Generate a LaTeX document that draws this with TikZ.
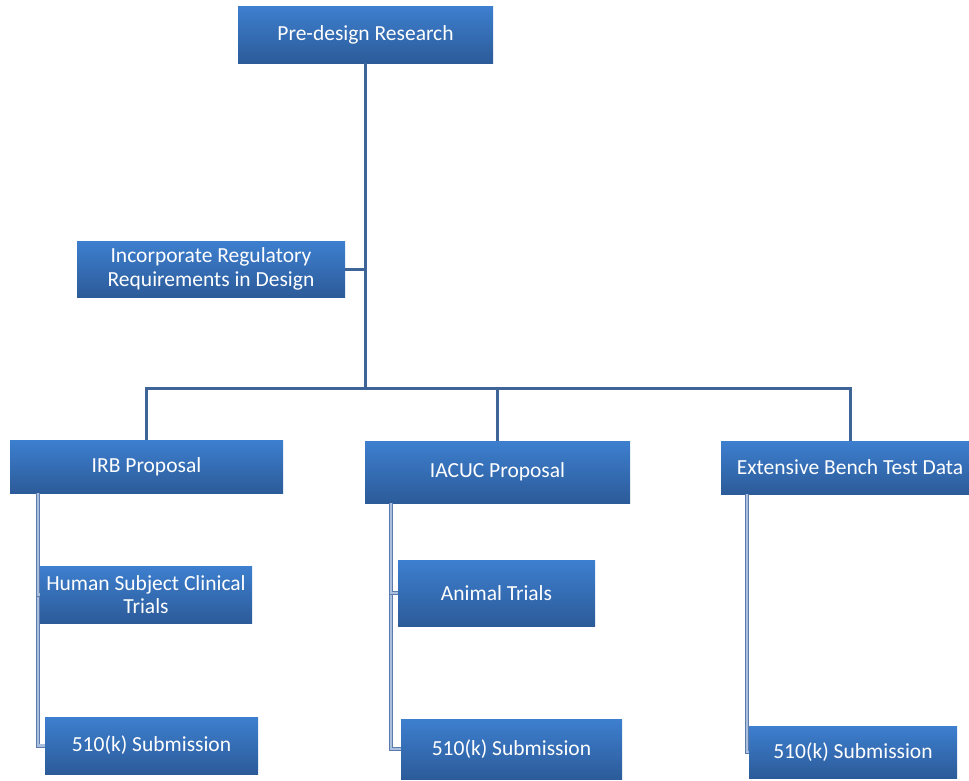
\documentclass[tikz,border=0pt]{standalone}
\usepackage{fontspec}
\setmainfont{Carlito}
\definecolor{boxtop}{HTML}{3D7FCF}
\definecolor{boxbot}{HTML}{2C5B99}
\definecolor{linedark}{HTML}{3F6498}
\definecolor{lineedge}{HTML}{5B7BAD}
\definecolor{linelight}{HTML}{AABFDD}
\begin{document}
\begin{tikzpicture}[x=1pt,y=-1pt,
  blbox/.style={anchor=north west, rectangle, inner sep=0pt, outer sep=0pt,
    top color=boxtop, bottom color=boxbot, draw=none, text=white, align=center,
    font=\fontsize{21.5}{23.5}\selectfont},
  mainline/.style={draw=linedark, line width=3pt},
  sideline/.style={draw=lineedge, line width=0.8pt, double=linelight, double distance=2.4pt}]
\useasboundingbox (0,0) rectangle (969,780);
\node[blbox, minimum width=255pt, minimum height=57pt] (pre) at (238,6) {Pre-design Research};
\node[blbox, minimum width=268pt, minimum height=56pt] (inc) at (77,241) {Incorporate Regulatory\\Requirements in Design};
\node[blbox, minimum width=273pt, minimum height=53pt] (irb) at (10,440) {IRB Proposal};
\node[blbox, minimum width=265pt, minimum height=62pt] (iacuc) at (365,441) {IACUC Proposal};
\node[blbox, minimum width=248pt, minimum height=53pt] (ext) at (721,441) {\hspace*{10pt}Extensive Bench Test Data};
\coordinate (bus) at (365,388);
\coordinate (extin) at (850,441);
\coordinate (irbout) at (38,493);
\coordinate (iacout) at (391,503);
\coordinate (extout) at (747,494);
% main connectors
\draw[mainline] (pre.south -| bus) -- (bus);
\draw[mainline] (inc.east) -- (inc.east -| bus);
\draw[mainline] (irb.north) |- (bus);
\draw[mainline] (bus) -| (extin);
\draw[mainline] (iacuc.north) -- (iacuc.north |- bus);
% child boxes
\node[blbox, minimum width=212pt, minimum height=57pt] (hum) at (40,566) {Human Subject Clinical\\Trials};
\node[blbox, minimum width=197pt, minimum height=66pt] (ani) at (398,560) {Animal Trials};
\node[blbox, minimum width=213pt, minimum height=57pt] (s1) at (45,717) {510(k) Submission};
\node[blbox, minimum width=221pt, minimum height=60pt] (s2) at (401,719) {510(k) Submission};
\node[blbox, minimum width=208pt, minimum height=52pt] (s3) at (749,726) {510(k) Submission};
% side connectors
\draw[sideline] (irbout) |- (s1.west);
\draw[sideline] (irbout) |- (hum.west);
\draw[sideline] (iacout) |- (s2.west);
\draw[sideline] (iacout) |- (ani.west);
\draw[sideline] (extout) |- (s3.west);
\end{tikzpicture}
\end{document}
